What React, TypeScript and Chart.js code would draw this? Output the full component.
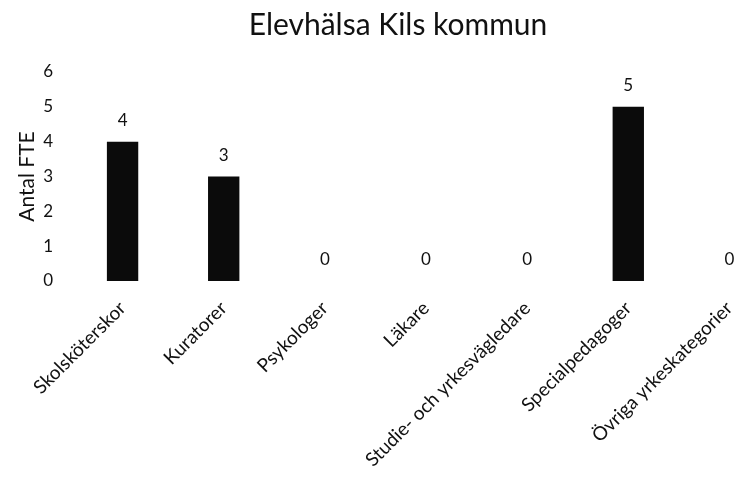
import React, { useEffect, useRef } from "react";
import { Chart, registerables } from "chart.js";

Chart.register(...registerables);

const TITLE = "Elevhälsa Kils kommun";
const Y_TITLE = "Antal FTE";
const categories = [
  "Skolsköterskor",
  "Kuratorer",
  "Psykologer",
  "Läkare",
  "Studie- och yrkesvägledare",
  "Specialpedagoger",
  "Övriga yrkeskategorier",
];
const values = [4, 3, 0, 0, 0, 5, 0];
const yMin = 0;
const yMax = 6;
const yStep = 1;

const FONT = "Lato, 'Open Sans', sans-serif";

export default function App() {
  const ref = useRef<HTMLCanvasElement | null>(null);

  useEffect(() => {
    const canvas = ref.current;
    if (!canvas) return;

    const titlePlugin = {
      id: "customTitle",
      afterDraw(chart: any) {
        const ctx = chart.ctx;
        ctx.save();
        ctx.fillStyle = "#111";
        ctx.font = `30px ${FONT}`;
        ctx.textAlign = "center";
        ctx.textBaseline = "alphabetic";
        ctx.fillText(TITLE, 398, 35);
        ctx.restore();
      },
    };

    const valueLabels = {
      id: "valueLabels",
      afterDatasetsDraw(chart: any) {
        const ctx = chart.ctx;
        const meta = chart.getDatasetMeta(0);
        ctx.save();
        ctx.fillStyle = "#111";
        ctx.font = `17px ${FONT}`;
        ctx.textAlign = "center";
        ctx.textBaseline = "middle";
        meta.data.forEach((bar: any, i: number) => {
          ctx.fillText(String(values[i]), bar.x, bar.y - 21);
        });
        ctx.restore();
      },
    };

    const chart = new Chart(canvas, {
      type: "bar",
      data: {
        labels: categories,
        datasets: [
          {
            data: values,
            backgroundColor: "#0b0b0b",
            borderWidth: 0,
            barPercentage: 0.31,
            categoryPercentage: 1,
          },
        ],
      },
      options: {
        responsive: false,
        animation: false,
        devicePixelRatio: 1,
        layout: { padding: { top: 72, right: 20, left: 0, bottom: 0 } },
        plugins: {
          legend: { display: false },
          title: { display: false },
          tooltip: { enabled: false },
        },
        scales: {
          x: {
            grid: { display: false },
            border: { display: false },
            ticks: {
              color: "#111",
              font: { family: FONT, size: 19 },
              minRotation: 45,
              maxRotation: 45,
              autoSkip: false,
              padding: 8,
              labelOffset: 0,
            },
            afterFit(scale: any) {
              scale.height = 196;
            },
          },
          y: {
            min: yMin,
            max: yMax,
            grid: { display: false },
            border: { display: false },
            ticks: {
              stepSize: yStep,
              color: "#111",
              font: { family: FONT, size: 17 },
              padding: 11,
            },
            title: {
              display: true,
              text: Y_TITLE,
              color: "#111",
              font: { family: FONT, size: 21, weight: "normal" },
              padding: { top: 15, bottom: 0 },
            },
            afterFit(scale: any) {
              scale.width = 72;
            },
          },
        },
      },
      plugins: [titlePlugin, valueLabels],
    });

    return () => chart.destroy();
  }, []);

  return (
    <div
      style={{
        position: "absolute",
        left: 0,
        top: 0,
        width: 735,
        height: 477,
        overflow: "hidden",
        background: "#fff",
      }}
    >
      <canvas ref={ref} width={800} height={477} style={{ display: "block" }} />
    </div>
  );
}
